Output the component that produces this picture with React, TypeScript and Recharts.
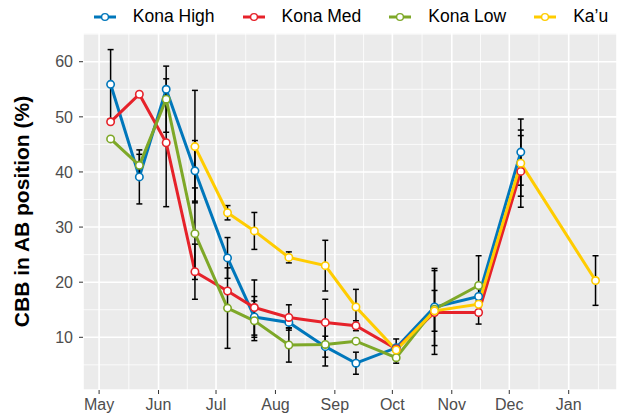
import React from 'react';
import {
  LineChart,
  Line,
  XAxis,
  YAxis,
  CartesianGrid,
  ErrorBar,
  ReferenceLine,
  Legend,
} from 'recharts';

// sampling dates
const sampleDates = [
  '2015-05-07', '2015-05-22', '2015-06-05', '2015-06-20', '2015-07-07', '2015-07-21', '2015-08-08',
  '2015-08-27', '2015-09-12', '2015-10-03', '2015-10-23', '2015-11-15', '2015-12-07', '2016-01-15',
];

// CBB in AB position (%) and SE
const konaHigh = [55.9, 39.1, 55.0, 40.2, 24.4, 13.7, 12.7, 8.3, 5.3, 8.1, 15.5, 17.4, 43.6, null];
const konaHighErr = [6.3, 4.9, null, 5.5, 3.7, 3.7, 1.0, 1.9, 2.0, null, 7.0, null, 6.0, null];
const konaMed = [49.1, 54.1, 45.3, 21.9, 18.4, 15.4, 13.6, 12.7, 12.1, 7.9, 14.5, 14.5, 40.1, null];
const konaMedErr = [null, null, 11.6, 5.0, null, 5.0, 2.3, 4.2, 0.9, 1.8, 7.6, 2.1, 6.5, null];
const konaLow = [46.0, 41.2, 53.2, 28.8, 15.3, 13.0, 8.6, 8.7, 9.3, 6.3, 15.1, 19.4, null, null];
const konaLowErr = [null, 2.0, 6.0, 8.3, 7.3, 3.6, 3.1, 3.9, null, 1.0, null, 5.4, null, null];
const kau = [null, null, null, 44.6, 32.6, 29.3, 24.5, 23.0, 15.5, 7.7, 14.8, 16.0, 41.6, 20.3];
const kauErr = [null, null, null, 10.2, 1.3, 3.35, 1.0, 4.6, 3.2, null, 3.7, null, 6.0, 4.5];

// axis
const monthStarts = [
  '2015-05-01', '2015-06-01', '2015-07-01', '2015-08-01', '2015-09-01',
  '2015-10-01', '2015-11-01', '2015-12-01', '2016-01-01', '2016-02-01',
];
const monthLabels = ['May', 'Jun', 'Jul', 'Aug', 'Sep', 'Oct', 'Nov', 'Dec', 'Jan'];
const yTicks = [10, 20, 30, 40, 50, 60];
const yMinor = [5, 15, 25, 35, 45, 55, 65];

const ORIGIN = Date.parse('2015-05-01');
const dayOf = (d: string) => (Date.parse(d) - ORIGIN) / 86400000;

const monthDays = monthStarts.map(dayOf);
const xTicks = monthDays.slice(0, monthLabels.length);
const xMinor = monthDays.slice(1).map((d, i) => (d + monthDays[i]) / 2);

const data = sampleDates.map((d, i) => ({
  day: dayOf(d),
  high: konaHigh[i],
  highErr: konaHighErr[i],
  med: konaMed[i],
  medErr: konaMedErr[i],
  low: konaLow[i],
  lowErr: konaLowErr[i],
  kau: kau[i],
  kauErr: kauErr[i],
}));

const series = [
  { key: 'high', err: 'highErr', name: 'Kona High', color: '#0077BB' },
  { key: 'med', err: 'medErr', name: 'Kona Med', color: '#E6222A' },
  { key: 'low', err: 'lowErr', name: 'Kona Low', color: '#7EA828' },
  { key: 'kau', err: 'kauErr', name: 'Ka\u2019u', color: '#FFCC00' },
];

const FONT = '"Liberation Sans", Arial, Helvetica, sans-serif';

const LegendBox = () => (
  <div
    style={{
      width: 617,
      height: 33,
      display: 'flex',
      alignItems: 'center',
      justifyContent: 'center',
      paddingLeft: 85,
      boxSizing: 'border-box',
      fontFamily: FONT,
      fontSize: 17.5,
      color: '#000',
      whiteSpace: 'nowrap',
    }}
  >
    {series.map((s) => (
      <div key={s.key} style={{ display: 'flex', alignItems: 'center', margin: '0 14px', flexShrink: 0 }}>
        <svg width={22} height={10} style={{ marginRight: 17 }}>
          <line x1={0} y1={5} x2={22} y2={5} stroke={s.color} strokeWidth={3} />
          <circle cx={11} cy={5} r={3.4} fill="#fff" stroke={s.color} strokeWidth={1.4} />
        </svg>
        <span>{s.name}</span>
      </div>
    ))}
  </div>
);

const YTitle = (props: any) => {
  const vb = props.viewBox;
  const cx = vb.x + 21;
  const cy = vb.y + vb.height / 2;
  return (
    <text
      x={cx}
      y={cy}
      transform={`rotate(-90 ${cx} ${cy})`}
      textAnchor="middle"
      dominantBaseline="central"
      fontFamily={FONT}
      fontSize={21}
      fontWeight="bold"
      fill="#000"
    >
      CBB in AB position (%)
    </text>
  );
};

export default function App() {
  return (
    <div style={{ position: 'absolute', left: 0, top: 0, width: 617, height: 417, background: '#fff', overflow: 'hidden' }}>
      <LineChart width={617} height={417} data={data} margin={{ top: 0, right: 0, bottom: 0, left: 0 }}>
        <Legend
          verticalAlign="top"
          align="center"
          content={<LegendBox />}
          wrapperStyle={{ left: 0, top: 0, width: 617, height: 33 }}
        />
        <CartesianGrid fill="#EBEBEB" stroke="#FFFFFF" strokeWidth={1.6} />
        {yMinor.map((v) => (
          <ReferenceLine key={`y${v}`} y={v} stroke="#FFFFFF" strokeWidth={0.8} ifOverflow="hidden" />
        ))}
        {xMinor.map((v) => (
          <ReferenceLine key={`x${v}`} x={v} stroke="#FFFFFF" strokeWidth={0.8} ifOverflow="hidden" />
        ))}
        <XAxis
          type="number"
          dataKey="day"
          domain={[-8.4, 270.2]}
          allowDataOverflow
          ticks={xTicks}
          tickFormatter={(v: number) => monthLabels[xTicks.indexOf(v)] ?? ''}
          height={27}
          axisLine={false}
          tickSize={4}
          tickMargin={5}
          tickLine={{ stroke: '#333333' }}
          tick={{ fill: '#4D4D4D', fontSize: 16, fontFamily: FONT }}
        />
        <YAxis
          type="number"
          domain={[0.44, 65.21]}
          allowDataOverflow
          ticks={yTicks}
          width={83}
          axisLine={false}
          tickSize={4}
          tickMargin={6}
          tickLine={{ stroke: '#333333' }}
          tick={{ fill: '#4D4D4D', fontSize: 16, fontFamily: FONT }}
          label={<YTitle />}
        />
        {series.map((s) => (
          <Line
            key={s.key}
            dataKey={s.key}
            name={s.name}
            stroke={s.color}
            strokeWidth={3}
            dot={{ r: 3.7, fill: '#FFFFFF', stroke: s.color, strokeWidth: 1.6 }}
            activeDot={false}
            isAnimationActive={false}
            legendType="none"
          >
            <ErrorBar dataKey={s.err} direction="y" width={3} stroke="#000" strokeWidth={1.5} isAnimationActive={false} />
          </Line>
        ))}
      </LineChart>
    </div>
  );
}
